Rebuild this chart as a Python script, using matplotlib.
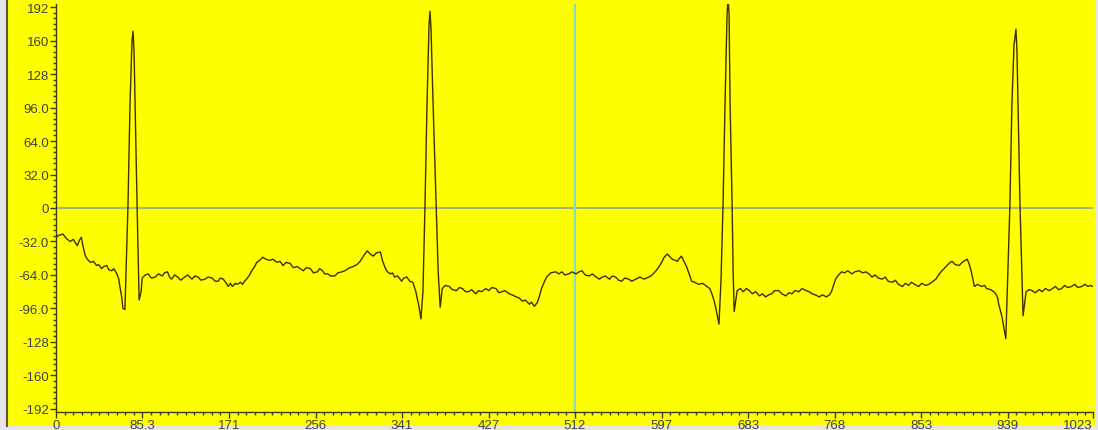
import numpy as np
import matplotlib.pyplot as plt
from matplotlib.ticker import FixedLocator, MultipleLocator
from matplotlib.patches import Rectangle
from matplotlib.lines import Line2D

# ECG trace, 1024 samples: sample index and amplitude at each trace vertex
beat_a_t = [0, 3, 7, 10, 14, 17, 21, 23, 25, 27, 29, 31, 34, 37, 40, 42, 45, 47, 50, 52,
            55, 57, 60, 62, 63, 65, 66, 68]
beat_a_v = [-28, -26, -25, -29, -32, -30, -36, -31, -28, -38, -46, -49, -52, -51, -55, -54,
            -58, -56, -55, -59, -60, -58, -63, -68, -75, -86, -96, -97]

qrs1_t = [71, 73, 75, 76, 77, 78, 80, 82, 84, 85]
qrs1_v = [2, 99, 160, 169, 150, 99, 2, -88, -80, -67]

beat_b_t = [88, 91, 94, 98, 101, 105, 107, 110, 112, 114, 117, 120, 123, 127, 130, 134, 137,
            140, 143, 147, 150, 154, 157, 160, 162, 165, 168, 170, 172, 174, 177, 179, 182,
            184, 186, 188, 191, 193, 196, 198, 201, 204, 207, 211, 214, 218, 221, 224, 227,
            231, 234, 238, 241, 244, 247, 251, 254, 258, 260, 263, 265, 268, 271, 275, 278,
            282, 285, 288, 290, 293, 297, 300, 304, 307, 310, 313, 316, 320, 322, 325, 327,
            330, 332, 334, 337, 341, 343, 346, 349, 352, 355, 358, 360]
beat_b_v = [-64, -63, -67, -66, -63, -65, -62, -61, -66, -68, -64, -66, -69, -66, -64, -68, -65,
            -66, -69, -68, -66, -67, -70, -70, -67, -68, -72, -75, -72, -75, -72, -73, -71,
            -73, -70, -68, -64, -60, -56, -52, -50, -47, -49, -50, -49, -52, -51, -55, -52,
            -53, -57, -56, -58, -60, -57, -58, -62, -61, -58, -60, -63, -63, -65, -65, -62,
            -61, -60, -58, -57, -56, -54, -51, -45, -41, -44, -46, -43, -42, -50, -58, -61,
            -63, -62, -66, -65, -70, -67, -66, -70, -71, -80, -94, -106]

qrs2_t = [362, 364, 366, 368, 369, 370, 372, 375, 377, 379, 381]
qrs2_v = [-80, 2, 99, 175, 188, 170, 99, 2, -60, -95, -77]

beat_c_t = [384, 388, 391, 395, 398, 401, 404, 407, 410, 414, 417, 420, 424, 427, 430, 434,
            437, 440, 443, 447, 450, 454, 457, 460, 463, 467, 469, 472, 475, 477, 479, 482,
            484, 488, 493, 496, 499, 502, 506, 509, 513, 516, 519, 522, 526, 529, 533, 536,
            539, 542, 546, 549, 552, 555, 558, 561, 565, 568, 572, 576, 580, 585, 588, 592,
            595, 598, 600, 603, 606, 608, 611, 613, 615, 617, 620, 622, 625, 627, 630, 634,
            638, 642, 645, 647, 649, 651, 654]
beat_c_v = [-74, -75, -78, -79, -76, -77, -80, -80, -78, -82, -79, -80, -77, -79, -76, -77,
            -81, -80, -79, -82, -83, -85, -86, -89, -88, -92, -90, -94, -90, -84, -77, -70,
            -66, -62, -61, -63, -61, -64, -63, -61, -63, -61, -60, -64, -65, -63, -66, -68,
            -66, -65, -68, -65, -66, -69, -70, -67, -68, -70, -68, -66, -68, -66, -64, -60,
            -56, -51, -47, -44, -47, -49, -50, -51, -48, -46, -52, -56, -64, -70, -71, -73,
            -72, -75, -77, -82, -88, -96, -111]

qrs3_t = [656, 658, 660, 662, 663, 664, 665, 667, 668, 669, 672]
qrs3_v = [-70, 2, 99, 185, 200, 185, 99, 2, -60, -99, -79]

beat_d_t = [675, 678, 681, 684, 687, 690, 694, 697, 700, 703, 706, 709, 713, 716, 720, 723,
            726, 729, 733, 736, 740, 743, 746, 749, 753, 756, 760, 763, 765, 767, 769, 772,
            775, 778, 781, 785, 788, 792, 796, 799, 802, 805, 808, 811, 815, 818, 821, 825,
            828, 831, 835, 838, 841, 844, 847, 851, 854, 858, 861, 864, 868, 870, 873, 876,
            879, 882, 884, 887, 891, 894, 897, 899, 901, 903, 906, 909, 913, 916, 918, 922,
            925, 927, 929, 930, 933, 935, 937]
beat_d_v = [-77, -80, -77, -79, -82, -80, -84, -82, -85, -83, -82, -79, -79, -82, -84, -81,
            -82, -79, -80, -77, -79, -80, -82, -83, -85, -83, -85, -83, -80, -74, -68, -64,
            -61, -62, -60, -63, -61, -60, -62, -61, -63, -66, -64, -67, -68, -66, -70, -71,
            -69, -73, -75, -72, -74, -71, -73, -75, -72, -74, -73, -71, -68, -65, -61, -58,
            -55, -52, -51, -54, -55, -52, -50, -49, -54, -61, -75, -73, -75, -74, -77, -78,
            -80, -82, -86, -92, -103, -114, -125]

qrs4_t = [939, 941, 943, 945, 947, 948, 949, 951, 953, 954, 957]
qrs4_v = [-60, 2, 99, 155, 171, 150, 99, 2, -70, -103, -80]

beat_e_t = [960, 963, 966, 970, 973, 976, 980, 983, 986, 989, 992, 995, 998, 1002, 1005,
            1008, 1012, 1015, 1018, 1020, 1023]
beat_e_v = [-78, -79, -81, -78, -80, -77, -79, -77, -75, -78, -77, -74, -76, -75, -73,
            -76, -75, -73, -75, -74, -75]

sample = beat_a_t + qrs1_t + beat_b_t + qrs2_t + beat_c_t + qrs3_t + beat_d_t + qrs4_t + beat_e_t
amplitude = beat_a_v + qrs1_v + beat_b_v + qrs2_v + beat_c_v + qrs3_v + beat_d_v + qrs4_v + beat_e_v

x_ticks = [0, 85.33, 170.67, 256, 341.33, 426.67, 512, 597.33, 682.67, 768, 853.33, 938.67, 1023]
x_labels = ['0', '85.3', '171', '256', '341', '427', '512', '597', '683', '768', '853', '939', '1023']
y_ticks = [-192, -160, -128, -96, -64, -32, 0, 32, 64, 96, 128, 160, 192]
y_labels = ['-192', '-160', '-128', '-96.0', '-64.0', '-32.0', '0', '32.0', '64.0', '96.0',
            '128', '160', '192']
cursor_x = 512

yellow = '#ffff00'
W, H = 1098, 431
fig = plt.figure(figsize=(W / 100, H / 100), dpi=100, facecolor=yellow)

# grey window frame around the yellow panel
frame = dict(transform=fig.transFigure, facecolor='#e6e6e6', edgecolor='none', zorder=-5)
fig.patches.append(Rectangle((0, 0), 6 / W, 1, **frame))
fig.patches.append(Rectangle((0, 0), 1, 4 / H, **frame))
fig.patches.append(Rectangle((1095 / W, 0), 3 / W, 1, **frame))
fig.lines.append(Line2D([6.5 / W, 6.5 / W], [4 / H, 1], transform=fig.transFigure,
                        color='#5a5a30', lw=1.5, zorder=-4))

ax = fig.add_axes([56 / W, 18 / H, 1037 / W, 408 / H])
ax.set_facecolor(yellow)
ax.set_xlim(0, 1023)
ax.set_ylim(-195, 195)

ax.axhline(0, color='#92aa8c', lw=1.2, zorder=1)
ax.axvline(cursor_x, color='#86dcc0', lw=1.6, zorder=1)
ax.plot(sample, amplitude, color='#3e3000', lw=1.0, zorder=2)

for side in ['top', 'right']:
    ax.spines[side].set_visible(False)
for side in ['left', 'bottom']:
    ax.spines[side].set_color('#3a3a20')
    ax.spines[side].set_linewidth(1.0)

ax.xaxis.set_major_locator(FixedLocator(x_ticks))
ax.set_xticklabels(x_labels)
ax.yaxis.set_major_locator(FixedLocator(y_ticks))
ax.set_yticklabels(y_labels)
ax.xaxis.set_minor_locator(MultipleLocator(1024 / 120))
ax.yaxis.set_minor_locator(MultipleLocator(32 / 6))

ax.tick_params(which='major', length=4, width=1.0, color='#3a3a20', labelsize=9.5,
               labelcolor='#404040', pad=1)
ax.tick_params(which='minor', length=2, width=1.0, color='#3a3a20')
for lab in ax.get_xticklabels() + ax.get_yticklabels():
    lab.set_fontfamily('Liberation Sans')
ax.get_xticklabels()[-1].set_horizontalalignment('right')

fig.savefig('out.png', dpi=100, facecolor=fig.get_facecolor())
